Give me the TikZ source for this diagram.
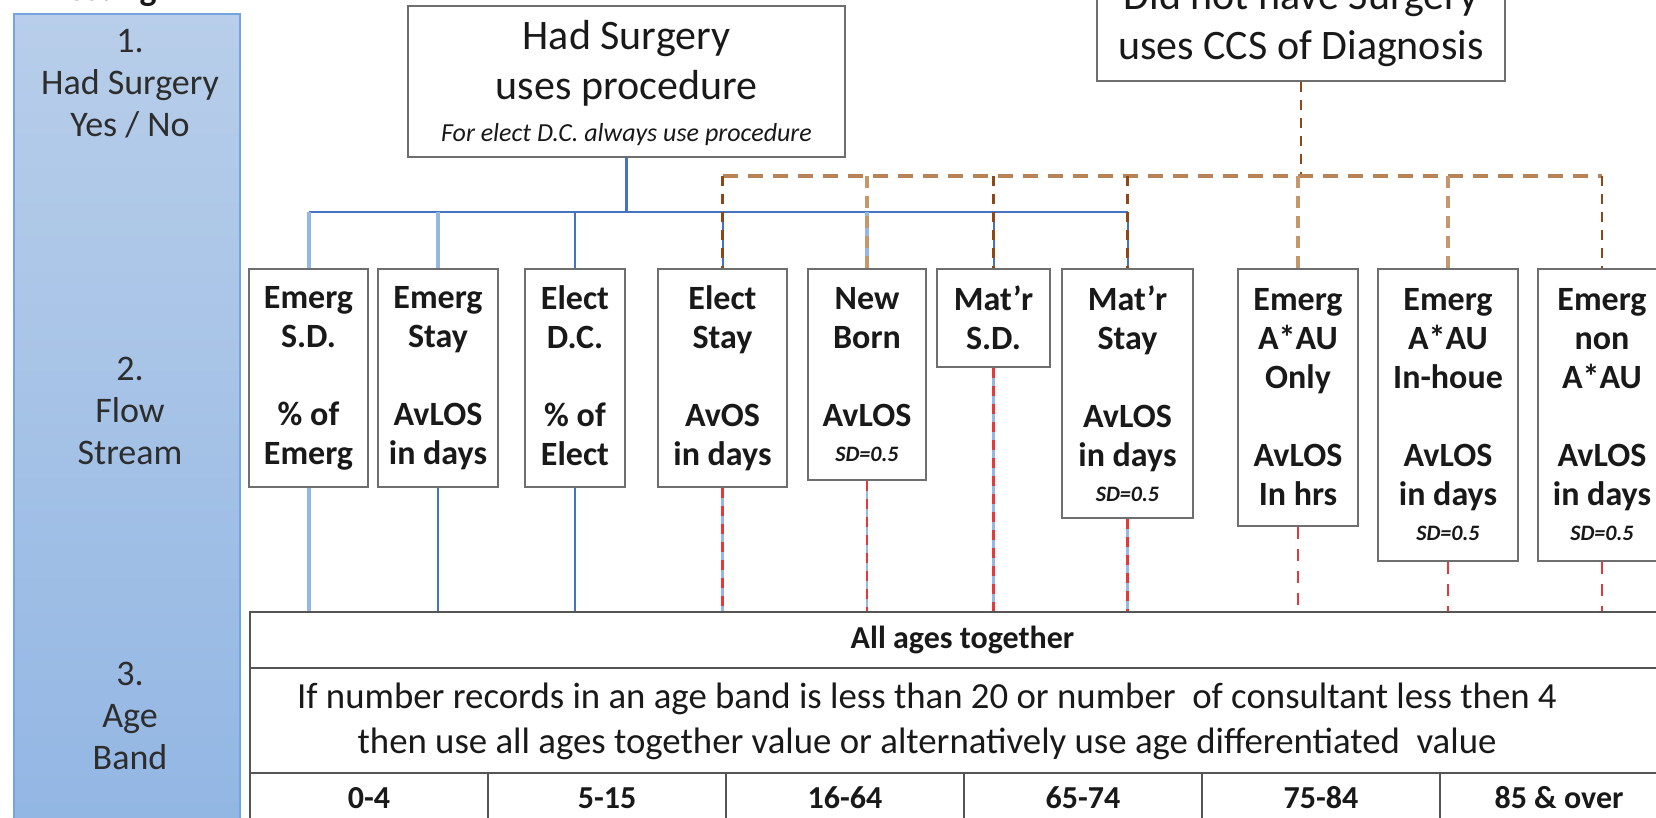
\documentclass[tikz,border=0pt]{standalone}
\usepackage{fontspec}
\setmainfont{Carlito}
\definecolor{boxline}{RGB}{110,110,110}
\definecolor{tabline}{RGB}{85,85,85}
\definecolor{txt}{RGB}{25,25,25}
\definecolor{paneltxt}{RGB}{45,45,45}
\definecolor{panelhi}{RGB}{184,206,234}
\definecolor{panello}{RGB}{146,182,227}
\definecolor{panelrim}{RGB}{118,164,222}
\definecolor{surgblue}{RGB}{68,114,196}
\definecolor{paleblue}{RGB}{150,183,228}
\definecolor{darkbrown}{RGB}{140,72,24}
\definecolor{tanbrown}{RGB}{198,150,108}
\definecolor{dashred}{RGB}{226,58,58}
\newcommand\sdnote{{\fontsize{11}{13}\selectfont\itshape SD=0.5}}
\tikzset{
  levelpanel/.style={rectangle, draw=panelrim, line width=1pt, top color=panelhi,
    bottom color=panello, minimum width=113pt, minimum height=410pt, inner sep=0pt,
    anchor=north west},
  paneltext/.style={text=paneltxt, align=center, font=\fontsize{18}{21}\selectfont},
  topbox/.style={draw=boxline, line width=1pt, fill=white, text=txt, align=center,
    inner sep=0pt, font=\fontsize{21}{25}\selectfont},
  flowbox/.style={draw=boxline, line width=1pt, fill=white, text=txt, align=center,
    anchor=north, inner sep=0pt, font=\fontsize{17}{19.5}\selectfont\bfseries},
  tabcell/.style={draw=tabline, line width=1pt, text=txt, inner sep=0pt, anchor=north west},
  surgbus/.style={surgblue, line width=1.4pt},
  surgthin/.style={surgblue, line width=1pt},
  surgpale/.style={paleblue, line width=2pt},
  paleline/.style={paleblue, line width=1.4pt},
  ccsbus/.style={tanbrown!75!darkbrown, line width=2pt, dash pattern=on 7.5pt off 5pt},
  ccsdark/.style={darkbrown, line width=1.4pt, dash pattern=on 5pt off 4pt},
  ccstan/.style={tanbrown, line width=2pt, dash pattern=on 6pt off 4pt},
  redover/.style={dashred, line width=1.4pt, dash pattern=on 5pt off 4pt},
  redonly/.style={dashred, line width=1.4pt, dash pattern=on 6pt off 5pt},
}
\begin{document}
\begin{tikzpicture}[x=0.5pt,y=-0.5pt]
\useasboundingbox (0,0) rectangle (1656,818);
\clip (0,0) rectangle (1656,818);

% level panel on the left
\node[levelpanel] (panel) at (13,13) {};
\node[anchor=base, text=txt, font=\fontsize{18}{21}\selectfont\bfseries] (title) at (100,1) {Nesting};
\node[paneltext] (lvl1) at (130,84) {1.\\Had Surgery\\Yes / No};
\node[paneltext] (lvl2) at (130,411) {2.\\Flow\\Stream};
\node[paneltext] (lvl3) at (130,716) {3.\\Age\\Band};

% top decision boxes
\node[topbox, minimum width=218.5pt, minimum height=75.5pt, anchor=north west] (hs) at (407,5)
  {\rule{0pt}{16pt}Had Surgery\\uses procedure\\[-4pt]{\fontsize{13}{15}\selectfont\itshape For elect D.C. always use procedure}};
\node[topbox, minimum width=204pt, anchor=south, inner ysep=7pt] (dn) at (1301,82)
  {Did not have Surgery\\uses CCS of Diagnosis};

% flow stream boxes
\node[flowbox, minimum width=59.5pt, minimum height=109pt] (esd) at (308.5,268) {Emerg\\S.D.\\\mbox{}\\\% of\\Emerg};
\node[flowbox, minimum width=60pt, minimum height=109pt] (est) at (438,268) {Emerg\\Stay\\\mbox{}\\AvLOS\\in days};
\node[flowbox, minimum width=50pt, minimum height=109pt] (edc) at (575,268) {Elect\\D.C.\\\mbox{}\\\% of\\Elect\vphantom{g}};
\node[flowbox, minimum width=64.5pt, minimum height=109pt] (els) at (722.5,268) {Elect\\Stay\\\mbox{}\\AvOS\\in days};
\node[flowbox, minimum width=59pt, minimum height=105.5pt] (nb) at (867,268) {New\\Born\\\mbox{}\\AvLOS\\[-2pt]\sdnote};
\node[flowbox, minimum width=56.5pt, minimum height=49pt] (msd) at (993.5,268) {Mat'r\\S.D.};
\node[flowbox, minimum width=65.5pt, minimum height=124.5pt] (mst) at (1127.5,268) {Mat'r\\Stay\\\mbox{}\\AvLOS\\in days\\[-2pt]\sdnote};
\node[flowbox, minimum width=60pt, minimum height=128.5pt] (aon) at (1298,268) {Emerg\\A*AU\\Only\\\mbox{}\\AvLOS\\In hrs};
\node[flowbox, minimum width=70pt, minimum height=146pt] (aih) at (1448,268) {Emerg\\A*AU\\In-houe\\\mbox{}\\AvLOS\\in days\\[-2pt]\sdnote};
\node[flowbox, minimum width=64pt, minimum height=146pt] (ana) at (1602,268) {Emerg\\non\\A*AU\\\mbox{}\\AvLOS\\in days\\[-2pt]\sdnote};

% age band table
\node[tabcell, minimum width=712.5pt, minimum height=28pt, font=\fontsize{16}{19}\selectfont\bfseries] (ages) at (249,611) {All ages together};
\node[tabcell, minimum width=712.5pt, minimum height=52.5pt] (rule) at (249,667) {};
\node[text=txt, align=center, font=\fontsize{18.4}{22.5}\selectfont] (ruletxt) at (927,721)
  {If number records in an age band is less than 20 or number\ \ of consultant less then 4\\then use all ages together value or alternatively use age differentiated\ \ value};
\foreach \lbl [count=\i from 0] in {0-4,5-15,16-64,65-74,75-84,85 \& over}
  \node[tabcell, minimum width=119pt, minimum height=25pt, font=\fontsize{16}{19}\selectfont\bfseries]
    (band\i) at ({249+238*\i},772) {\lbl};

% bus coordinates
\coordinate (sbus) at (622,212);
\coordinate (nbus) at (1300,176);

% surgery tree (solid blue)
\draw[surgbus] (hs.south) -- (hs.south |- sbus);
\draw[surgbus] (esd.north |- sbus) -- (mst.north |- sbus);
\draw[surgpale] (esd.north |- sbus) -- (esd.north);
\draw[surgpale] (est.north |- sbus) -- (est.north);
\draw[surgthin] (edc.north |- sbus) -- (edc.north);
\draw[surgpale] (nb.north |- sbus) -- (nb.north);
\foreach \b in {els,msd,mst} \draw[surgthin] (\b.north |- sbus) -- (\b.north);

% no-surgery tree (dashed brown)
\draw[ccsdark] (dn.south) -- (dn.south |- nbus);
\draw[ccsbus] (els.north |- nbus) -- (ana.north |- nbus);
\foreach \b in {els,msd,mst,ana} \draw[ccsdark] (\b.north |- nbus) -- (\b.north);
\foreach \b in {nb,aon,aih} \draw[ccstan] (\b.north |- nbus) -- (\b.north);

% flow streams into the age bands
\draw[surgpale] (esd.south) -- (esd.south |- ages.north);
\draw[surgthin] (est.south) -- (est.south |- ages.north);
\draw[surgthin] (edc.south) -- (edc.south |- ages.north);
\foreach \b in {els,nb,msd,mst} {
  \draw[paleline] (\b.south) -- (\b.south |- ages.north);
  \draw[redover] (\b.south) -- (\b.south |- ages.north);
}
\foreach \b in {aon,aih,ana} \draw[redonly] (\b.south) -- (\b.south |- ages.north);
\end{tikzpicture}
\end{document}
